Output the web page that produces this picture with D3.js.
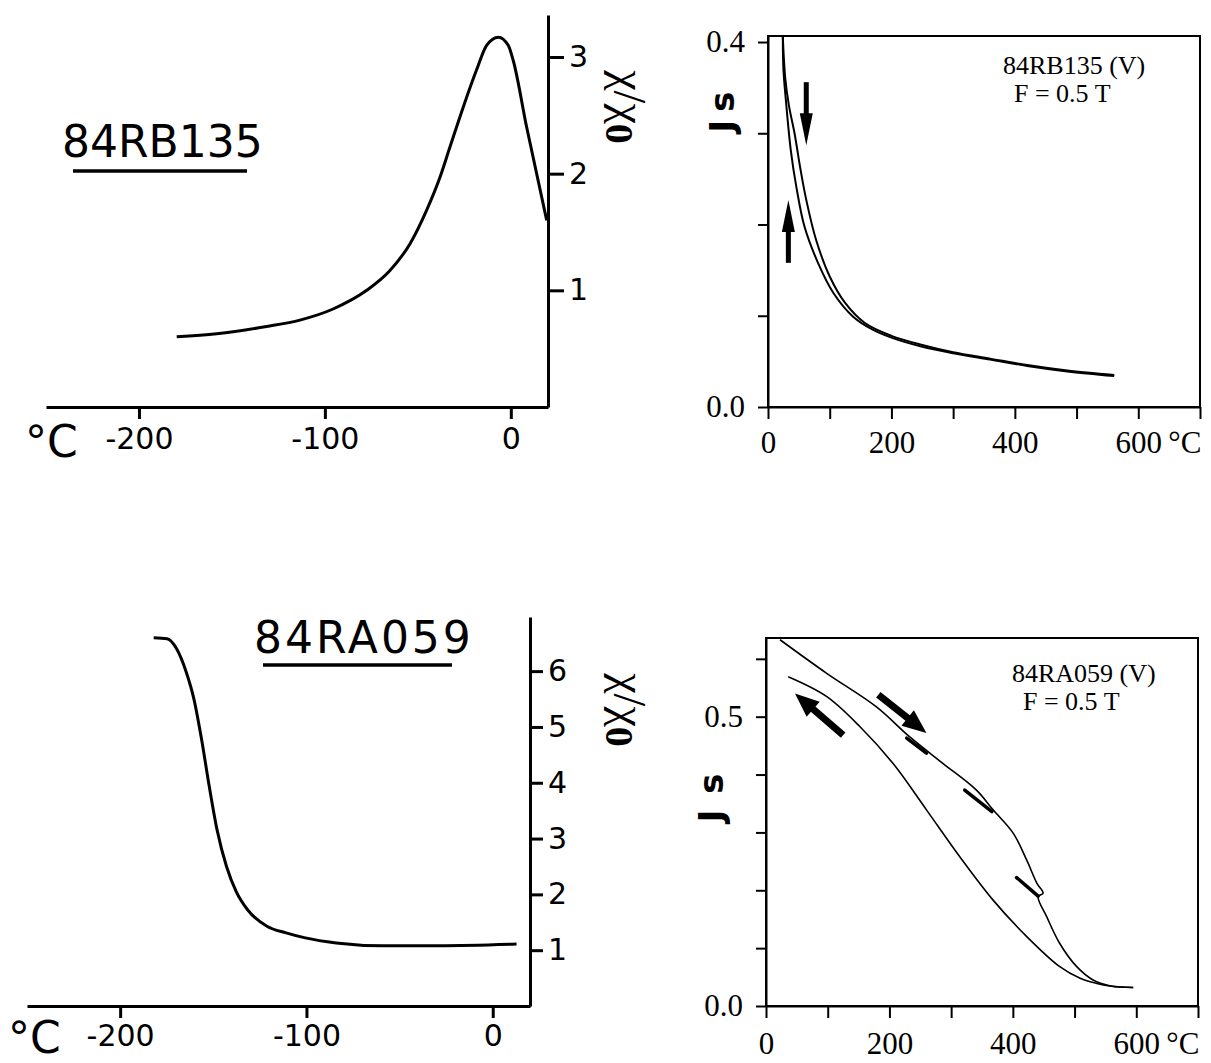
<!DOCTYPE html>
<html>
<head>
<meta charset="utf-8">
<script src="https://cdn.jsdelivr.net/npm/d3@7"></script>
<style>
  body { margin: 0; background: #fff; }
  svg { display: block; }
</style>
</head>
<body>
<script>
// ---- data ----
// top left: 84RB135 susceptibility, chi/chi0 vs T (deg C)
const rbSuscT = [-179.7, -158.2, -131.3, -113.4, -95.6, -77.5, -65, -54.2, -45.2, -38.1, -32.7, -25.6, -18.4, -13, -6.7, -1.4, 1.3, 8.5, 19.3];
const rbSuscV = [0.603, 0.628, 0.690, 0.745, 0.84, 1.0, 1.17, 1.40, 1.69, 1.97, 2.23, 2.57, 2.89, 3.10, 3.17, 3.10, 2.97, 2.40, 1.60];
const rbSuscYTicks = [1, 2, 3];

// top right: 84RB135 Js vs T, heating and cooling
const rbHeatT = [24, 28, 34, 43, 52, 62, 78, 100, 125, 157, 200, 250, 300, 360, 420, 485, 561];
const rbHeatV = [0.406, 0.36, 0.33, 0.30, 0.263, 0.227, 0.183, 0.143, 0.114, 0.092, 0.078, 0.068, 0.060, 0.053, 0.046, 0.040, 0.035];
const rbCoolT = [24, 25, 29, 37, 46, 59, 81, 106, 138, 169, 200, 250, 300, 360, 420, 485, 561];
const rbCoolV = [0.406, 0.37, 0.336, 0.281, 0.241, 0.198, 0.158, 0.125, 0.099, 0.085, 0.076, 0.066, 0.059, 0.052, 0.045, 0.039, 0.034];
const rbJsYTicks = [0, 0.1, 0.2, 0.3, 0.4];
const rbJsArrows = [[62, 0.356, 62, 0.287], [33, 0.158, 33, 0.227]];

// bottom left: 84RA059 susceptibility
const raSuscT = [-182, -174.8, -169.7, -164.5, -160.4, -156.3, -152.2, -148, -142.9, -137.7, -131.5, -121.2, -110.9, -100.6, -84, -59.4, -28.5, 12.8];
const raSuscV = [6.6, 6.58, 6.4, 5.98, 5.5, 4.78, 3.94, 3.16, 2.5, 2.05, 1.72, 1.43, 1.31, 1.22, 1.13, 1.08, 1.08, 1.11];
const raSuscYTicks = [1, 2, 3, 4, 5, 6];

// bottom right: 84RA059 Js vs T
const raHeatT = [22.7, 98.3, 179, 233, 287, 341, 368, 401, 422.5, 439, 449, 441, 455, 476, 503.5, 530, 557, 595];
const raHeatV = [0.633, 0.575, 0.517, 0.465, 0.419, 0.373, 0.339, 0.298, 0.252, 0.212, 0.195, 0.189, 0.154, 0.108, 0.068, 0.045, 0.035, 0.032];
const raCoolT = [36, 98, 152, 206, 260, 314, 368, 422.5, 476, 509, 536, 560, 595];
const raCoolV = [0.569, 0.535, 0.483, 0.419, 0.339, 0.258, 0.183, 0.12, 0.068, 0.048, 0.039, 0.034, 0.032];
const raJsYTicks = [0, 0.1, 0.2, 0.3, 0.4, 0.5, 0.6];
const raJsArrows = [[182, 0.538, 260, 0.472], [125, 0.468, 47, 0.540]];
const raJsMarks = [[228, 0.463, 260, 0.437], [322, 0.373, 366, 0.336], [406, 0.222, 441, 0.190]];

const suscXTicks = [-200, -100, 0];
const jsXTicks = [0, 100, 200, 300, 400, 500, 600, 700];
const jsXLabels = [0, 200, 400, 600];

const zip = (a, b) => a.map((d, i) => [d, b[i]]);

const svg = d3.select("body").append("svg")
  .attr("width", 1211)
  .attr("height", 1063);

const sansFont = "'DejaVu Sans', sans-serif";
const serifFont = "'Liberation Serif', 'Times New Roman', serif";

function styleAxis(g, font, size, sw) {
  g.select(".domain").attr("stroke-width", sw).attr("stroke", "#000");
  g.selectAll(".tick line").attr("stroke-width", sw).attr("stroke", "#000");
  g.selectAll(".tick text").attr("font-family", font).attr("font-size", size).attr("fill", "#000");
}

function arrow(g, x, y, a, shaftW, headL, headW) {
  const x0 = x(a[0]), y0 = y(a[1]), x1 = x(a[2]), y1 = y(a[3]);
  const len = Math.hypot(x1 - x0, y1 - y0);
  const ux = (x1 - x0) / len, uy = (y1 - y0) / len;
  const bx = x1 - ux * headL, by = y1 - uy * headL;
  g.append("line")
    .attr("x1", x0).attr("y1", y0).attr("x2", bx + ux * 2).attr("y2", by + uy * 2)
    .attr("stroke", "#000").attr("stroke-width", shaftW);
  g.append("polygon")
    .attr("points", [[x1, y1], [bx - uy * headW / 2, by + ux * headW / 2], [bx + uy * headW / 2, by - ux * headW / 2]].join(" "))
    .attr("fill", "#000");
}

function chiLabel(cx, cy) {
  const t = svg.append("text")
    .attr("transform", `translate(${cx},${cy}) rotate(90)`)
    .attr("text-anchor", "middle")
    .attr("font-family", serifFont)
    .attr("font-size", 46);
  t.append("tspan").text("χ/χ");
  t.append("tspan").attr("dy", 8).attr("font-weight", "bold").attr("font-size", 40).text("0");
}

function jsLabel(cx, cy, txt, spacing) {
  svg.append("text")
    .attr("transform", `translate(${cx},${cy}) rotate(-90)`)
    .attr("text-anchor", "middle")
    .attr("dy", "0.35em")
    .attr("font-family", sansFont)
    .attr("font-weight", "bold")
    .attr("font-size", 34)
    .attr("letter-spacing", spacing)
    .text(txt);
}

// ---------- susceptibility panels ----------
function suscPanel(opt) {
  const x = d3.scaleLinear().domain([-250, 20]).range(opt.xr);
  const y = d3.scaleLinear().domain([0, opt.ymax]).range(opt.yr);
  const g = svg.append("g");

  const xa = g.append("g")
    .attr("transform", `translate(0,${opt.yr[0]})`)
    .call(d3.axisBottom(x).tickValues(suscXTicks).tickSize(12).tickSizeOuter(0)
      .tickPadding(opt.xpad).tickFormat(d => String(d)));
  styleAxis(xa, sansFont, 30, 3);

  const ya = g.append("g")
    .attr("transform", `translate(${opt.xr[1]},0)`)
    .call(d3.axisRight(y).tickValues(opt.yticks).tickSize(opt.ytick).tickSizeOuter(0)
      .tickPadding(5).tickFormat(d => String(d)));
  styleAxis(ya, sansFont, 30, 3);

  g.append("path")
    .datum(opt.data)
    .attr("fill", "none")
    .attr("stroke", "#000")
    .attr("stroke-width", 3)
    .attr("stroke-linejoin", "round")
    .attr("d", d3.line().x(d => x(d[0])).y(d => y(d[1])).curve(d3.curveMonotoneX));

  // degree label at the left of the x axis
  g.append("text")
    .attr("x", opt.deg[0]).attr("y", opt.deg[1])
    .attr("font-family", sansFont)
    .attr("font-size", 44)
    .text("°C");

  // sample name
  g.append("text")
    .attr("x", opt.title[0]).attr("y", opt.title[1])
    .attr("font-family", sansFont)
    .attr("font-size", 44)
    .attr("letter-spacing", opt.title[2])
    .text(opt.name);
  g.append("line")
    .attr("x1", opt.under[0]).attr("x2", opt.under[1])
    .attr("y1", opt.under[2]).attr("y2", opt.under[2])
    .attr("stroke", "#000").attr("stroke-width", 3.5);
}

suscPanel({
  xr: [46, 548], yr: [407, 15], ymax: 3.36, yticks: rbSuscYTicks, ytick: 16, xpad: 9,
  data: zip(rbSuscT, rbSuscV), deg: [25, 457], name: "84RB135",
  title: [62, 157, 0], under: [73, 247, 171]
});

suscPanel({
  xr: [27, 530], yr: [1006, 617], ymax: 6.97, yticks: raSuscYTicks, ytick: 13, xpad: 7,
  data: zip(raSuscT, raSuscV), deg: [8, 1053], name: "84RA059",
  title: [254, 653, 3], under: [263, 452, 665]
});

chiLabel(614, 107);
chiLabel(614, 710);

// ---------- Js panels ----------
function jsPanel(opt) {
  const x = d3.scaleLinear().domain([0, 700]).range(opt.xr);
  const y = d3.scaleLinear().domain([0, opt.ymax]).range(opt.yr);
  const g = svg.append("g");

  g.append("rect")
    .attr("x", opt.xr[0]).attr("y", opt.yr[1])
    .attr("width", opt.xr[1] - opt.xr[0]).attr("height", opt.yr[0] - opt.yr[1])
    .attr("fill", "none").attr("stroke", "#000").attr("stroke-width", 2);

  const xa = g.append("g")
    .attr("transform", `translate(0,${opt.yr[0]})`)
    .call(d3.axisBottom(x).tickValues(jsXTicks).tickSize(12).tickSizeOuter(0)
      .tickPadding(opt.xpad).tickFormat(d => jsXLabels.includes(d) ? String(d) : ""));
  styleAxis(xa, serifFont, 31, 2);

  g.append("text")
    .attr("x", x(600) + 30).attr("y", opt.yr[0] + 12 + opt.xpad + 22)
    .attr("font-family", serifFont).attr("font-size", 31)
    .text("°C");

  const ya = g.append("g")
    .attr("transform", `translate(${opt.xr[0]},0)`)
    .call(d3.axisLeft(y).tickValues(opt.yticks).tickSize(10).tickSizeOuter(0)
      .tickPadding(13).tickFormat(d => opt.ylabels.includes(d) ? d3.format(".1f")(d) : ""));
  styleAxis(ya, serifFont, 31, 2);

  const line = d3.line().x(d => x(d[0])).y(d => y(d[1])).curve(d3.curveCatmullRom.alpha(0.5));
  opt.curves.forEach(c => {
    g.append("path")
      .datum(c)
      .attr("fill", "none")
      .attr("stroke", "#000")
      .attr("stroke-width", opt.lw)
      .attr("stroke-linejoin", "round")
      .attr("d", line);
  });

  (opt.marks || []).forEach(m => {
    g.append("line")
      .attr("x1", x(m[0])).attr("y1", y(m[1])).attr("x2", x(m[2])).attr("y2", y(m[3]))
      .attr("stroke", "#000").attr("stroke-width", 3.5).attr("stroke-linecap", "round");
  });

  opt.arrows.forEach(a => arrow(g, x, y, a, opt.arrowW[0], opt.arrowW[1], opt.arrowW[2]));

  g.append("text")
    .attr("x", opt.note[0]).attr("y", opt.note[1])
    .attr("font-family", serifFont).attr("font-size", 26)
    .text(opt.name + " (V)");
  g.append("text")
    .attr("x", opt.note[0] + 11).attr("y", opt.note[1] + 28)
    .attr("font-family", serifFont).attr("font-size", 26)
    .text("F = 0.5 T");
}

jsPanel({
  xr: [768, 1200], yr: [407, 36], ymax: 0.4066, yticks: rbJsYTicks, ylabels: [0, 0.4], xpad: 12,
  curves: [zip(rbHeatT, rbHeatV), zip(rbCoolT, rbCoolV)], lw: 2,
  arrows: rbJsArrows, arrowW: [5, 32, 13],
  name: "84RB135", note: [1003, 74]
});

jsPanel({
  xr: [766, 1198], yr: [1006, 638], ymax: 0.636, yticks: raJsYTicks, ylabels: [0, 0.5], xpad: 14,
  curves: [zip(raHeatT, raHeatV), zip(raCoolT, raCoolV)], lw: 1.6,
  marks: raJsMarks,
  arrows: raJsArrows, arrowW: [7, 24, 20],
  name: "84RA059", note: [1012, 682]
});

jsLabel(722, 108, "Js", 8);
jsLabel(711, 797, "J s", 2);
</script>
</body>
</html>
